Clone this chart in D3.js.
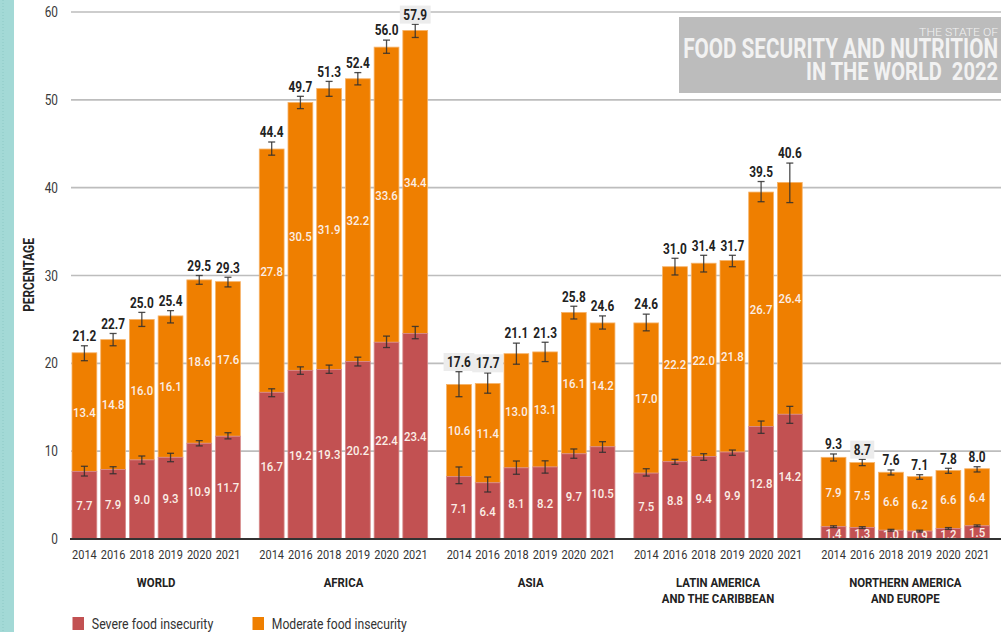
<!DOCTYPE html>
<html>
<head>
<meta charset="utf-8">
<script src="https://cdn.jsdelivr.net/npm/d3@7"></script>
<style>
  html, body { margin: 0; padding: 0; background: #fff; }
  svg { display: block; }
  text { font-family: Roboto, "Liberation Sans", sans-serif; }
</style>
</head>
<body>
<svg id="chart" width="1001" height="632"></svg>
<script>
// ---------------- DATA ----------------
const groups = ["WORLD", "AFRICA", "ASIA", "LATIN AMERICA|AND THE CARIBBEAN", "NORTHERN AMERICA|AND EUROPE"];
const years = ["2014", "2016", "2018", "2019", "2020", "2021"];
const yTicks = [0, 10, 20, 30, 40, 50, 60];

const severe = [
  [7.7, 7.9, 9.0, 9.3, 10.9, 11.7],
  [16.7, 19.2, 19.3, 20.2, 22.4, 23.4],
  [7.1, 6.4, 8.1, 8.2, 9.7, 10.5],
  [7.5, 8.8, 9.4, 9.9, 12.8, 14.2],
  [1.4, 1.3, 1.0, 0.9, 1.2, 1.5]
];
const moderate = [
  [13.4, 14.8, 16.0, 16.1, 18.6, 17.6],
  [27.8, 30.5, 31.9, 32.2, 33.6, 34.4],
  [10.6, 11.4, 13.0, 13.1, 16.1, 14.2],
  [17.0, 22.2, 22.0, 21.8, 26.7, 26.4],
  [7.9, 7.5, 6.6, 6.2, 6.6, 6.4]
];
const total = [
  [21.2, 22.7, 25.0, 25.4, 29.5, 29.3],
  [44.4, 49.7, 51.3, 52.4, 56.0, 57.9],
  [17.6, 17.7, 21.1, 21.3, 25.8, 24.6],
  [24.6, 31.0, 31.4, 31.7, 39.5, 40.6],
  [9.3, 8.7, 7.6, 7.1, 7.8, 8.0]
];
// confidence intervals (low, high) for total and severe
const totalLow = [
  [20.3, 22.0, 24.2, 24.6, 29.0, 28.7],
  [43.7, 49.0, 50.4, 51.7, 55.3, 57.1],
  [16.2, 16.6, 19.9, 20.2, 25.05, 23.9],
  [23.7, 30.06, 30.4, 31.0, 38.4, 38.3],
  [8.88, 8.35, 7.29, 6.8, 7.48, 7.63]
];
const totalHigh = [
  [22.0, 23.4, 25.8, 26.0, 30.0, 29.8],
  [45.2, 50.4, 52.1, 53.1, 56.8, 58.6],
  [19.05, 18.9, 22.3, 22.4, 26.5, 25.4],
  [25.6, 31.96, 32.3, 32.3, 40.7, 42.8],
  [9.68, 9.07, 7.86, 7.32, 8.05, 8.23]
];
const severeLow = [
  [7.17, 7.43, 8.54, 8.8, 10.6, 11.4],
  [16.2, 18.75, 18.86, 19.7, 21.8, 22.8],
  [6.3, 5.35, 7.37, 7.5, 9.19, 9.87],
  [7.17, 8.5, 8.96, 9.53, 12.03, 13.17],
  [1.3, 1.2, 0.9, 0.8, 1.1, 1.4]
];
const severeHigh = [
  [8.28, 8.23, 9.45, 9.76, 11.2, 12.1],
  [17.1, 19.6, 19.8, 20.7, 23.1, 24.2],
  [8.2, 7.06, 8.88, 8.9, 10.25, 11.08],
  [8.0, 9.07, 9.71, 10.13, 13.43, 15.1],
  [1.5, 1.4, 1.1, 1.0, 1.3, 1.6]
];
const seriesNames = ["Severe food insecurity", "Moderate food insecurity"];
const colors = ["#c25152", "#ef7f00"];
const watermark = ["THE STATE OF", "FOOD SECURITY AND NUTRITION", "IN THE WORLD\u00a0\u00a02022"];

// ---------------- SETUP ----------------
const svg = d3.select("#chart");
const y = d3.scaleLinear().domain([0, 60]).range([539, 12]);
const xg = d3.scaleBand().domain(groups).range([72, 989.5]).paddingInner(0.101).paddingOuter(0);
const xy = d3.scaleBand().domain(years).range([0, xg.bandwidth()]).paddingInner(0.136).paddingOuter(0);

function measure(str, size, weight) {
  const t = svg.append("text").attr("font-size", size).attr("font-weight", weight || "normal").text(str);
  const w = t.node().getComputedTextLength();
  t.remove();
  return w;
}
// condensed look: horizontal squeeze derived from year label width in the reference
const SX = 24.7 / measure("2014", 13);

function addText(parent, x, yy, str, o) {
  const g = parent.append("g").attr("transform", `translate(${x},${yy})${o.rotate ? " rotate(" + o.rotate + ")" : ""} scale(${o.sx || SX},1)`);
  return g.append("text").attr("text-anchor", o.anchor || "middle").attr("dy", o.dy || "0.36em")
    .attr("font-size", o.size).attr("font-weight", o.weight || "normal").attr("fill", o.fill || "#333").text(str);
}

// left teal strip
svg.append("rect").attr("x", 0).attr("y", 0).attr("width", 14).attr("height", 632).attr("fill", "#a3d9d6");
svg.append("line").attr("x1", 3).attr("x2", 3).attr("y1", 0).attr("y2", 632)
  .attr("stroke", "#8cc9c5").attr("stroke-width", 1).attr("stroke-dasharray", "1,2");

// gridlines
const gridYs = yTicks.filter(d => d > 0).map(d => y(d));
svg.append("g").selectAll("line").data(yTicks.filter(d => d > 0)).join("line")
  .attr("x1", 71).attr("x2", 1001).attr("y1", d => y(d)).attr("y2", d => y(d))
  .attr("stroke", "#bdbdbd").attr("stroke-width", 1.6);

// watermark box
const wm = svg.append("g");
wm.append("rect").attr("x", 679).attr("y", 17).attr("width", 322).attr("height", 76).attr("fill", "#bcbcbc");
const wmSpec = [
  { yb: 35.5, size: 11, weight: 300, w: 79 },
  { yb: 58.3, size: 27, weight: "bold", w: 315 },
  { yb: 80.3, size: 25.5, weight: "bold", w: 192 }
];
watermark.forEach((s, i) => {
  const sp = wmSpec[i];
  const nat = measure(s, sp.size, sp.weight);
  addText(wm, 998, sp.yb, s, { size: sp.size, weight: sp.weight, fill: "#f2f2f2", anchor: "end", dy: "0", sx: sp.w / nat });
});

// y tick labels
const yt = svg.append("g");
yTicks.forEach(d => addText(yt, 58, y(d), String(d), { size: 14, anchor: "end", fill: "#3a3a3a" }));

// y axis title
addText(svg, 29, 275, "PERCENTAGE", { size: 14, weight: "bold", fill: "#222", rotate: -90 });

// ---------------- BARS ----------------
const cells = [];
groups.forEach((g, gi) => years.forEach((yr, yi) => {
  cells.push({ g, gi, yr, yi,
    sev: severe[gi][yi], mod: moderate[gi][yi], tot: total[gi][yi],
    tl: totalLow[gi][yi], th: totalHigh[gi][yi], sl: severeLow[gi][yi], sh: severeHigh[gi][yi],
    x: xg(g) + xy(yr), w: xy.bandwidth() });
}));

const bars = svg.append("g");
bars.selectAll("rect.mod").data(cells).join("rect").attr("class", "mod")
  .attr("x", d => d.x).attr("width", d => d.w)
  .attr("y", d => y(d.tot)).attr("height", d => y(d.sev) - y(d.tot))
  .attr("fill", colors[1]).attr("stroke", "#f6b36a").attr("stroke-width", 0.8);
bars.selectAll("rect.sev").data(cells).join("rect").attr("class", "sev")
  .attr("x", d => d.x).attr("width", d => d.w)
  .attr("y", d => y(d.sev)).attr("height", d => y(0) - y(d.sev))
  .attr("fill", colors[0]).attr("stroke", "#d68a8a").attr("stroke-width", 0.8);

// inner value labels
const inner = svg.append("g");
cells.forEach(d => {
  const cx = d.x + d.w / 2;
  addText(inner, cx, (y(0) + y(d.sev)) / 2, d.sev.toFixed(1), { size: 13.5, fill: "#fbeee6", weight: 500 });
  addText(inner, cx, (y(d.sev) + y(d.tot)) / 2, d.mod.toFixed(1), { size: 13.5, fill: "#fbeee6", weight: 500 });
});

// error bars
function errBars(sel, lowKey, highKey) {
  const g = sel.append("g").attr("stroke", "#2f2f2f").attr("stroke-width", 1.3).attr("stroke-opacity", 0.85);
  g.selectAll("line.v").data(cells).join("line").attr("class", "v")
    .attr("x1", d => d.x + d.w / 2).attr("x2", d => d.x + d.w / 2)
    .attr("y1", d => y(d[lowKey])).attr("y2", d => y(d[highKey]));
  g.selectAll("line.t").data(cells).join("line").attr("class", "t")
    .attr("x1", d => d.x + d.w / 2 - 3.5).attr("x2", d => d.x + d.w / 2 + 3.5)
    .attr("y1", d => y(d[highKey])).attr("y2", d => y(d[highKey]));
  g.selectAll("line.b").data(cells).join("line").attr("class", "b")
    .attr("x1", d => d.x + d.w / 2 - 3.5).attr("x2", d => d.x + d.w / 2 + 3.5)
    .attr("y1", d => y(d[lowKey])).attr("y2", d => y(d[lowKey]));
}
errBars(svg, "tl", "th");
errBars(svg, "sl", "sh");

// total labels, with a light halo where they cross a gridline
const tot = svg.append("g");
cells.forEach(d => {
  const cy = y(d.th) - 9.7;
  const cx = d.x + d.w / 2;
  const txt = d.tot.toFixed(1);
  if (gridYs.some(gy => Math.abs(gy - cy) < 5)) {
    const wdt = measure(txt, 14, "bold") * SX + 7;
    tot.append("rect").attr("x", cx - wdt / 2).attr("y", cy - 9).attr("width", wdt).attr("height", 18)
      .attr("fill", "#ececec");
  }
  addText(tot, cx, cy, txt, { size: 14, weight: "bold", fill: "#222" });
});

// x axis baseline
svg.append("line").attr("x1", 70).attr("x2", 1001).attr("y1", y(0)).attr("y2", y(0))
  .attr("stroke", "#333").attr("stroke-width", 2.2);

// year labels
const yl = svg.append("g");
cells.forEach(d => addText(yl, d.x + d.w / 2, 554, d.yr, { size: 13, fill: "#333" }));

// group labels
const gl = svg.append("g");
groups.forEach(g => {
  g.split("|").forEach((ln, i) => {
    addText(gl, xg(g) + xg.bandwidth() / 2, 582.5 + i * 16, ln, { size: 13.5, weight: "bold", fill: "#222" });
  });
});

// legend
const leg = svg.append("g");
const legX = [72.5, 252.5];
const legW = [121.5, 135];
seriesNames.forEach((s, i) => {
  leg.append("rect").attr("x", legX[i]).attr("y", 617).attr("width", 11.5).attr("height", 13).attr("fill", colors[i]);
  addText(leg, legX[i] + 19.3, 624, s, { size: 15, anchor: "start", fill: "#333", sx: legW[i] / measure(s, 15) });
});
</script>
</body>
</html>
